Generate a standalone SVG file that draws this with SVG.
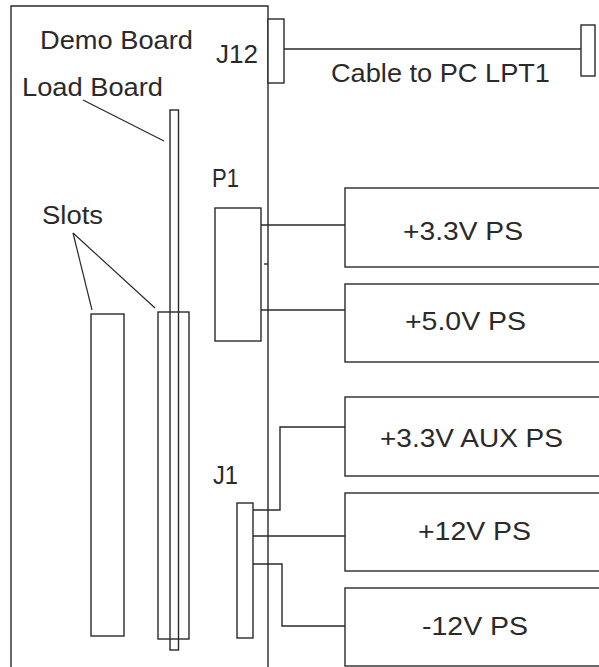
<svg xmlns="http://www.w3.org/2000/svg" width="599" height="667" viewBox="0 0 599 667">
<style>
.s{fill:none;stroke:#2a2a2a;stroke-width:1.4}
.w{fill:#fff;stroke:#2a2a2a;stroke-width:1.4}
.t{font-family:"Liberation Sans",Arial,sans-serif;font-size:26px;fill:#2a2a2a}
.l{fill:none;stroke:#2a2a2a;stroke-width:1.2}
</style>
<rect width="599" height="667" fill="#fff"/>
<g id="demo-board">
<path class="s" d="M11,667 V6 H268 V667"/>
<text class="t" x="40" y="49" textLength="153" lengthAdjust="spacingAndGlyphs">Demo Board</text>
</g>
<g id="j12">
<rect class="w" x="268" y="19" width="16" height="64"/>
<text class="t" x="216" y="63" textLength="42" lengthAdjust="spacingAndGlyphs">J12</text>
</g>
<g id="pc-lpt1">
<rect class="w" x="581" y="25" width="14" height="51"/>
</g>
<g id="slot1">
<rect class="s" x="91" y="314" width="33" height="322"/>
</g>
<g id="slot2">
<rect class="s" x="158" y="312" width="31" height="327"/>
</g>
<g id="load-board">
<rect class="s" x="170" y="110" width="8.5" height="540"/>
<text class="t" x="22" y="96" textLength="141" lengthAdjust="spacingAndGlyphs">Load Board</text>
</g>
<g id="slots-label">
<text class="t" x="42" y="224" textLength="61" lengthAdjust="spacingAndGlyphs">Slots</text>
</g>
<g id="p1">
<rect class="w" x="215" y="208" width="46" height="133"/>
<text class="t" x="212" y="187" textLength="27" lengthAdjust="spacingAndGlyphs">P1</text>
</g>
<g id="j1">
<rect class="w" x="237" y="503" width="16" height="135"/>
<text class="t" x="213" y="484" textLength="25" lengthAdjust="spacingAndGlyphs">J1</text>
</g>
<g id="ps-3v3">
<rect class="w" x="345" y="188" width="280" height="79"/>
<text class="t" x="403" y="240" textLength="120" lengthAdjust="spacingAndGlyphs">+3.3V PS</text>
</g>
<g id="ps-5v0">
<rect class="w" x="345" y="284" width="280" height="78"/>
<text class="t" x="405" y="330" textLength="121" lengthAdjust="spacingAndGlyphs">+5.0V PS</text>
</g>
<g id="ps-3v3aux">
<rect class="w" x="345" y="397" width="280" height="79"/>
<text class="t" x="380" y="447" textLength="183" lengthAdjust="spacingAndGlyphs">+3.3V AUX PS</text>
</g>
<g id="ps-12v">
<rect class="w" x="345" y="493" width="280" height="78"/>
<text class="t" x="418" y="540" textLength="113" lengthAdjust="spacingAndGlyphs">+12V PS</text>
</g>
<g id="ps-m12v">
<rect class="w" x="345" y="588" width="280" height="78"/>
<text class="t" x="422" y="635" textLength="106" lengthAdjust="spacingAndGlyphs">-12V PS</text>
</g>
<g id="connectors">
<path class="s" d="M284,49 H581"/>
<text class="t" x="331" y="82" textLength="219" lengthAdjust="spacingAndGlyphs">Cable to PC LPT1</text>
<path class="s" d="M261,225 H345"/>
<path class="s" d="M261,310 H345"/>
<path class="s" d="M264,264 H268"/>
<path class="s" d="M253,510 H280 V427 H345"/>
<path class="s" d="M253,536 H345"/>
<path class="s" d="M253,564 H282 V626 H345"/>
<path class="l" d="M83,100 L164,141"/>
<path class="l" d="M73,233 L92,310"/>
<path class="l" d="M73,233 L155,308"/>
</g>
</svg>
